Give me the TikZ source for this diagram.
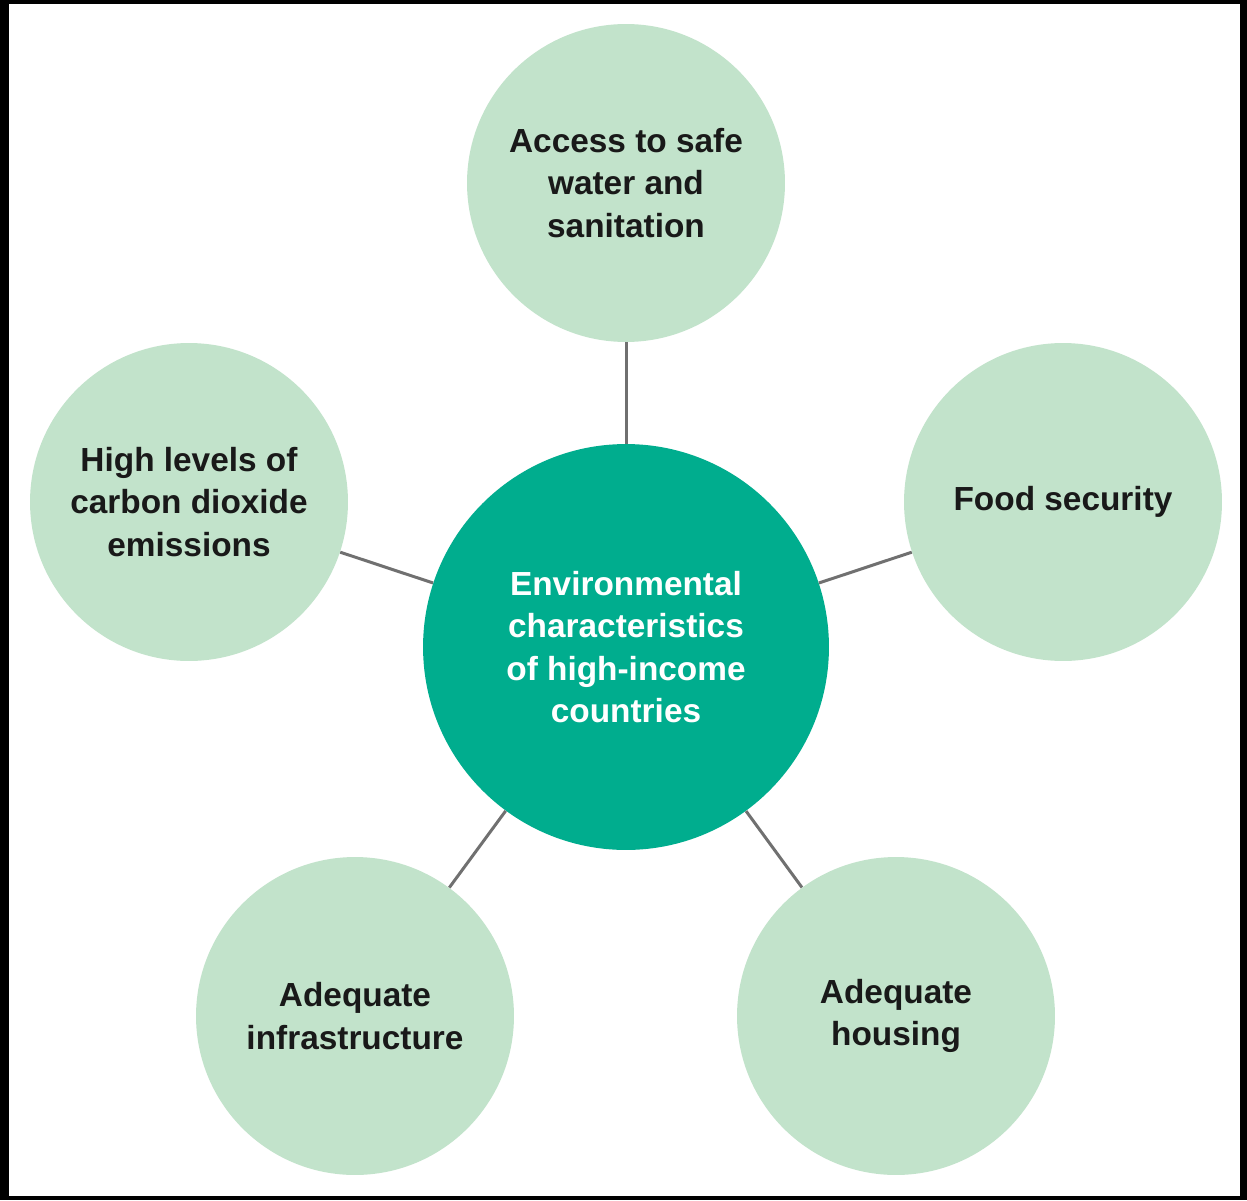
\documentclass[tikz,border=0pt]{standalone}
\usepackage{fontspec}
\setmainfont{Liberation Sans}
\usepackage{tikz}
\usetikzlibrary{arrows.meta}
\definecolor{hubgreen}{HTML}{00AD8E}
\definecolor{leafgreen}{HTML}{C2E3CB}
\definecolor{spokegray}{HTML}{707070}
\tikzset{
  hub/.style={circle, fill=hubgreen, text=white, minimum size=8.12cm, inner sep=0pt,
    align=center, font=\fontsize{19}{24}\selectfont\bfseries},
  leaf/.style={circle, fill=leafgreen, text=black!90, minimum size=6.36cm, inner sep=0pt,
    align=center, font=\fontsize{19}{24}\selectfont\bfseries},
  spoke/.style={spokegray, line width=1.7pt}
}
\begin{document}
\begin{tikzpicture}[x=0.02cm,y=-0.02cm]
\fill[black] (0,0) rectangle (1247,1200);
\fill[white] (9,4) rectangle (1240,1196);
\useasboundingbox (0,0) rectangle (1247,1200);
\path (626,647) node (hub) [hub] {Environmental\\characteristics\\of high-income\\countries};
\path (626,183) node (water) [leaf] {Access to safe\\water and\\sanitation};
\path (1063,502) node (food) [leaf] {Food security};
\path (896,1016) node (housing) [leaf] {Adequate\\housing};
\path (355,1016) node (infra) [leaf] {Adequate\\infrastructure};
\path (189,502) node (carbon) [leaf] {High levels of\\carbon dioxide\\emissions};
\draw[spoke] (hub) -- (water);
\draw[spoke] (hub) -- (food);
\draw[spoke] (hub) -- (housing);
\draw[spoke] (hub) -- (infra);
\draw[spoke] (hub) -- (carbon);
\end{tikzpicture}
\end{document}
